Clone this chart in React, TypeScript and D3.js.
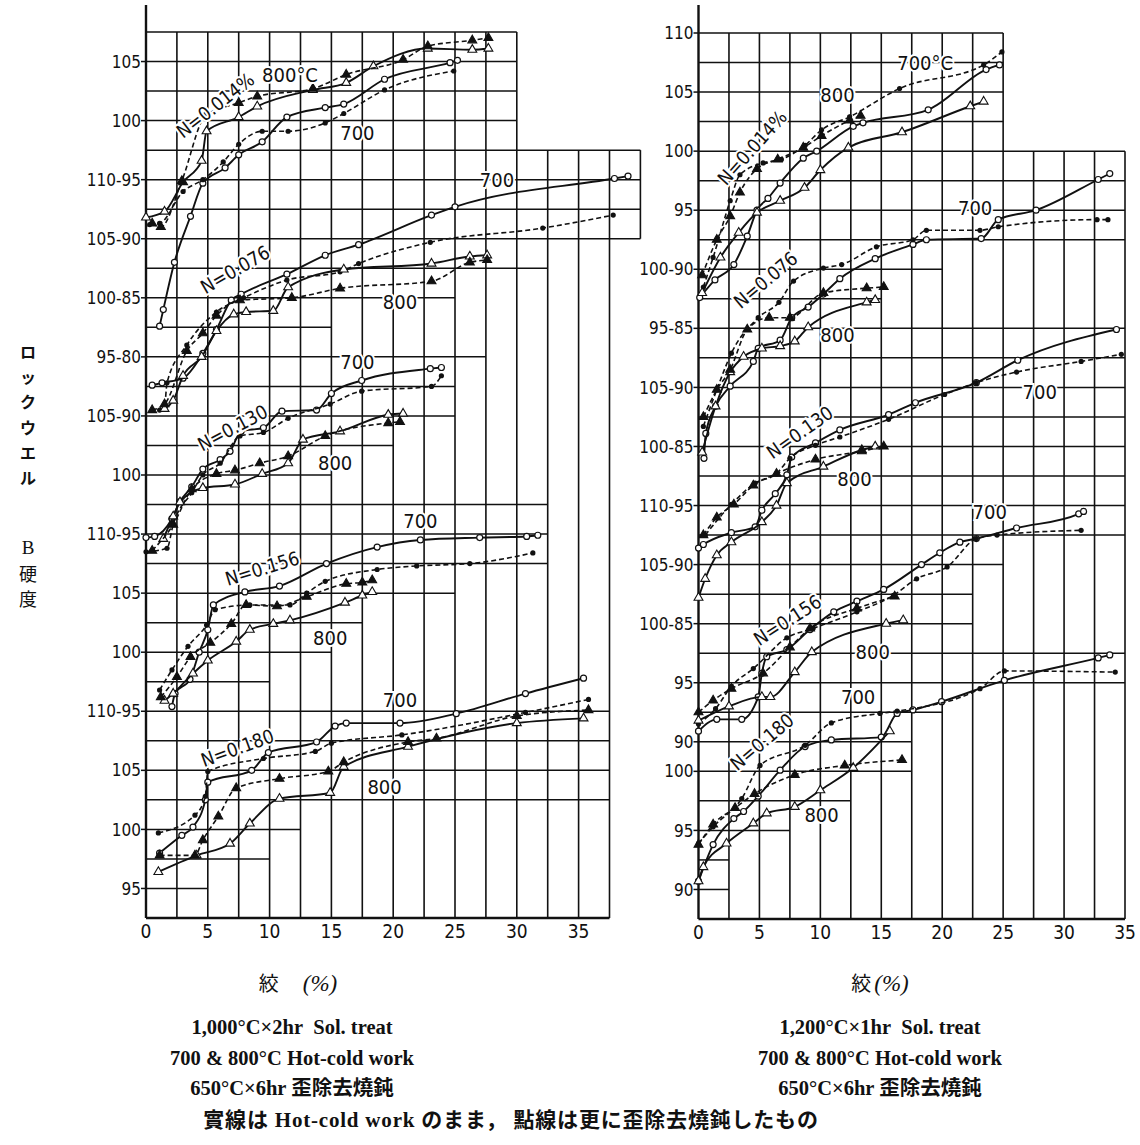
import React from 'react';
import * as d3 from 'd3';

type Pt = [number, number];

// ---- axis labels ----
const xTickValues = [0, 5, 10, 15, 20, 25, 30, 35];

// [stacked position, printed label]
const yLabelsLeft: [number, string][] = [
  [95, '95'], [100, '100'], [105, '105'], [110, '110-95'], [115, '100'], [120, '105'],
  [125, '110-95'], [130, '100'], [135, '105-90'], [140, '95-80'], [145, '100-85'],
  [150, '105-90'], [155, '110-95'], [160, '100'], [165, '105'],
];
const yLabelsRight: [number, string][] = [
  [90, '90'], [95, '95'], [100, '100'], [102.5, '90'], [107.5, '95'], [112.5, '100-85'],
  [117.5, '105-90'], [122.5, '110-95'], [127.5, '100-85'], [132.5, '105-90'], [137.5, '95-85'],
  [142.5, '100-90'], [147.5, '95'], [152.5, '100'], [157.5, '105'], [162.5, '110'],
];

// N content of each curve family and its vertical offset on the stacked axis
const nLevels = ['0.014', '0.076', '0.130', '0.156', '0.180'];
const offsetsLeft = [60, 45, 30, 15, 0];
const offsetsRight = [52.5, 42.5, 27.5, 12.5, 0];

// ---- grid (hand-cut stepped paper): [g, xEnd] ----
const hGridLeft: Pt[] = [
  [167.5, 30], [165, 30], [162.5, 30], [160, 30], [157.5, 40], [155, 40], [152.5, 40], [150, 40],
  [147.5, 32.5], [145, 25], [142.5, 15], [140, 27.5], [137.5, 25], [135, 25], [132.5, 20], [130, 15],
  [127.5, 32.5], [125, 32.5], [122.5, 32.5], [120, 25], [117.5, 17.5], [115, 15], [112.5, 10],
  [110, 37.5], [107.5, 37.5], [105, 37.5], [102.5, 37.5], [100, 12.5], [97.5, 10], [95, 5], [92.5, 37.5],
];
const hGridRight: Pt[] = [
  [162.5, 25], [160, 25], [157.5, 25], [155, 25], [152.5, 35], [150, 35], [147.5, 35], [145, 35],
  [142.5, 20], [140, 15], [137.5, 35], [135, 35], [132.5, 35], [130, 35], [127.5, 35], [125, 35],
  [122.5, 35], [120, 35], [117.5, 25], [115, 22.5], [112.5, 22.5], [110, 35], [107.5, 35],
  [105, 20], [102.5, 17.5], [100, 17.5], [97.5, 12.5], [95, 7.5], [92.5, 2.5], [90, 2.5], [87.5, 35],
];
// [x, gBottom, gTop]
const vGridLeft: [number, number, number][] = [
  [2.5, 92.5, 167.5], [5, 92.5, 167.5], [7.5, 92.5, 167.5], [10, 92.5, 167.5], [12.5, 92.5, 167.5],
  [15, 92.5, 167.5], [17.5, 92.5, 167.5], [20, 92.5, 167.5], [22.5, 92.5, 167.5], [25, 92.5, 167.5],
  [27.5, 92.5, 167.5], [30, 92.5, 167.5], [32.5, 92.5, 157.5], [35, 92.5, 157.5], [37.5, 92.5, 157.5],
  [40, 150, 157.5],
];
const vGridRight: [number, number, number][] = [
  [2.5, 87.5, 162.5], [5, 87.5, 162.5], [7.5, 87.5, 162.5], [10, 87.5, 162.5], [12.5, 87.5, 162.5],
  [15, 87.5, 162.5], [17.5, 87.5, 162.5], [20, 87.5, 162.5], [22.5, 87.5, 162.5], [25, 87.5, 162.5],
  [27.5, 87.5, 152.5], [30, 87.5, 152.5], [32.5, 87.5, 152.5], [35, 87.5, 152.5],
];

// ---- data: [reduction %, Rockwell B] ----
// left: 1000C x 2hr
const L014_700s: Pt[] = [[1.1, 82.6], [1.4, 84], [2.3, 88], [3.6, 91.9], [4.6, 94.7], [6.4, 96], [7.5, 97.1], [9.4, 98.2], [11.4, 100.3], [14.5, 101.1], [16, 101.4], [19.3, 103.5], [24.6, 104.9], [25.2, 105.1]];
const L014_700d: Pt[] = [[0.3, 91.2], [1.1, 91.3], [3, 94], [4.6, 95], [6.25, 96.5], [7.5, 98], [9.4, 99.1], [11.5, 99.1], [14.5, 99.8], [16, 100.6], [19.3, 102.6], [24.9, 104.2]];
const L014_800s: Pt[] = [[0, 91.8], [1.5, 92.3], [3, 94.8], [4.5, 96.6], [4.9, 99.1], [7.5, 100.3], [9, 101.2], [13.5, 102.6], [16.2, 103.2], [18.4, 104.6], [22.8, 106.1], [26.4, 106], [27.7, 106.1]];
const L014_800d: Pt[] = [[0.5, 91.3], [1.2, 91], [2.9, 94.9], [4.8, 100.4], [7.5, 101.5], [9, 102.05], [13.5, 102.7], [16.2, 103.9], [20.8, 105.15], [22.8, 106.3], [26.4, 106.8], [27.7, 107]];

const L076_700s: Pt[] = [[0.5, 92.6], [1.3, 92.8], [3, 93.2], [4.6, 95.3], [5.7, 97.3], [6.9, 99.8], [7.7, 100.3], [11.4, 102], [14.5, 103.6], [17.2, 104.5], [23.1, 107], [25, 107.7], [37.9, 110.1], [39, 110.3]];
const L076_700d: Pt[] = [[1.1, 90.5], [1.5, 90.8], [1.7, 92.8], [3.3, 96], [5.7, 98.8], [7.9, 100], [11.4, 101.5], [15.7, 102.2], [17.2, 102.9], [23, 104.7], [32.1, 105.9], [37.8, 107]];
const L076_800s: Pt[] = [[1.5, 90.6], [2.2, 91.3], [3, 93.4], [4.5, 95], [5.7, 97.2], [7.1, 98.6], [8.1, 98.8], [10.3, 98.9], [11.5, 100.9], [16, 102.4], [23.1, 102.9], [26.2, 103.5], [27.6, 103.6]];
const L076_800d: Pt[] = [[0.5, 90.5], [1.5, 91], [3.3, 95.5], [4.6, 97], [5.7, 98.5], [7.6, 99.8], [11.8, 100], [15.7, 100.8], [23.1, 101.4], [26.2, 103], [27.6, 103.2]];

const L130_700s: Pt[] = [[0, 94.7], [0.7, 94.8], [2.1, 96.3], [2.75, 97.75], [3.7, 99], [4.6, 100.5], [6, 101.3], [6.8, 102], [7.7, 103.7], [9.5, 104], [11, 105.4], [13.8, 105.5], [15, 106.9], [17.45, 108], [23, 109], [23.9, 109.1]];
const L130_700d: Pt[] = [[0, 93.5], [1.7, 93.8], [2.2, 95.8], [3.7, 98.5], [4.6, 100], [6, 101], [7.6, 103.3], [9.5, 103.6], [11.5, 104.8], [14.9, 106], [17.45, 107.1], [23.1, 107.5], [23.9, 108.4]];
const L130_800s: Pt[] = [[1.4, 94.6], [2.2, 96.5], [2.75, 97.7], [4.6, 98.9], [7.2, 99.2], [9.4, 100.1], [11.5, 101], [12.7, 103], [15.7, 103.7], [19.6, 105.1], [20.8, 105.2]];
const L130_800d: Pt[] = [[0.5, 93.6], [2.2, 95.8], [3.7, 98.8], [5.7, 100.1], [7.2, 100.4], [9.2, 101], [11.5, 101.6], [14.5, 103.3], [19.6, 104.4], [20.55, 104.5]];

const L156_700s: Pt[] = [[2.1, 95.4], [2.35, 96.5], [3.56, 97.7], [4.3, 100], [5, 101.9], [5.45, 104], [8, 105.1], [10.8, 105.6], [14.6, 107.5], [18.7, 108.9], [22.2, 109.5], [27, 109.7], [30.8, 109.8], [31.7, 109.9]];
const L156_700d: Pt[] = [[1.1, 96.8], [2.1, 98.5], [3.4, 100.5], [4.9, 102.3], [5.6, 103.6], [8.4, 104], [11.65, 104], [13, 105], [14.5, 106], [18.7, 107], [21.9, 107.3], [26.2, 107.5], [31.3, 108.4]];
const L156_800s: Pt[] = [[1.5, 95.9], [2.2, 96.5], [3.8, 98.2], [5, 99.3], [7.3, 100.9], [8.4, 101.9], [10.3, 102.4], [11.65, 102.7], [16.1, 104.2], [17.5, 104.8], [18.3, 105.1]];
const L156_800d: Pt[] = [[1.2, 96.2], [2.5, 97.9], [3.6, 99.6], [5.2, 100.8], [6.9, 102.4], [8.1, 104], [10.6, 103.9], [13, 104.7], [16.2, 105.8], [17.5, 105.9], [18.3, 106.1]];

const L180_700s: Pt[] = [[1.1, 98], [2.9, 99.5], [3.8, 100.2], [4.8, 102.5], [5, 104], [8.55, 105], [9.9, 106.5], [13.8, 107.4], [15.3, 108.75], [16.2, 109], [20.55, 109], [25.1, 109.8], [30.7, 111.5], [35.4, 112.8]];
const L180_700d: Pt[] = [[1, 99.7], [3.96, 101.2], [4.8, 102.8], [5, 104.9], [9.5, 106], [13.7, 106.6], [15, 107.3], [20.7, 108], [30.7, 109.9], [35.8, 111]];
const L180_800s: Pt[] = [[1, 96.4], [4.1, 97.8], [6.8, 98.8], [8.4, 100.5], [10.8, 102.6], [14.9, 103.1], [16, 105.3], [21.2, 107], [30, 109], [35.4, 109.4]];
const L180_800d: Pt[] = [[1.1, 97.8], [3.96, 97.8], [4.6, 99.1], [5.85, 101.1], [7.3, 103.5], [10.8, 104.3], [14.75, 104.9], [16, 105.7], [21.2, 107.4], [23.5, 107.7], [30, 109.6], [35.8, 110.1]];

// right: 1200C x 1hr
const R014_700s: Pt[] = [[0.1, 87.6], [1.35, 89.1], [2.9, 90.4], [4, 92.8], [4.8, 95], [5.7, 96], [6.7, 97.3], [8.6, 99.4], [9.7, 100], [12.7, 102.1], [13.5, 102.4], [18.85, 103.5], [23.6, 106.9], [24.7, 107.3]];
const R014_700d: Pt[] = [[0.4, 88.5], [1.2, 91], [2.6, 95.8], [3.4, 98], [5.3, 99], [6.8, 99.3], [8.75, 100.5], [10.1, 101.8], [12.4, 102.9], [16.5, 105.3], [23.4, 107.3], [24.9, 108.4]];
const R014_800s: Pt[] = [[0.3, 88], [1.8, 91], [3.3, 93.1], [4.8, 94.8], [6.7, 95.8], [8.7, 96.9], [10, 98.4], [12.3, 100.3], [16.7, 101.6], [22.3, 103.8], [23.4, 104.2]];
const R014_800d: Pt[] = [[0.3, 89.5], [1.5, 92.5], [2.6, 94.5], [3.4, 96.5], [4.8, 98.5], [6.5, 99.3], [8.6, 100.3], [10.1, 101.3], [12.4, 102.6], [13.3, 103]];

const R076_700s: Pt[] = [[0.45, 84], [0.6, 86.1], [1.4, 88.4], [2.6, 90.1], [4.5, 92.2], [4.9, 93.3], [6.7, 94], [7.65, 95.9], [9, 96.8], [10.25, 97.9], [11.6, 99.2], [14.5, 100.9], [17.6, 102.1], [18.7, 102.5], [23.2, 102.6], [24.6, 104.2], [27.7, 105], [32.8, 107.6], [33.75, 108.1]];
const R076_700d: Pt[] = [[0.4, 86.7], [1.5, 89.8], [2.7, 92.9], [4.9, 95.9], [6.6, 97.2], [7.8, 99], [10.25, 100.1], [11.75, 100.4], [14.6, 101.9], [17.6, 102.5], [18.7, 103.3], [23.1, 103.3], [24.6, 103.6], [32.7, 104.2], [33.6, 104.2]];
const R076_800s: Pt[] = [[0.3, 84.5], [1.4, 88.4], [2.6, 91.3], [3.7, 92.6], [5.2, 93.3], [6.7, 93.5], [7.9, 93.9], [9, 95.1], [13.8, 97.2], [14.5, 97.4]];
const R076_800d: Pt[] = [[0.4, 87.5], [1.5, 89.8], [2.6, 91.5], [4, 94.9], [5.8, 95.9], [7.5, 95.9], [10.25, 98], [13.8, 98.4], [15.2, 98.5]];

const R130_700s: Pt[] = [[0, 91.4], [0.4, 91.7], [2.7, 92.7], [4.65, 93.2], [5.2, 94.6], [6.3, 96], [7.25, 97.6], [7.65, 99.1], [9.6, 100.3], [11.6, 101.4], [15.6, 102.7], [17.8, 103.7], [22.8, 105.4], [26.2, 107.3], [34.3, 109.9]];
const R130_700d: Pt[] = [[0.55, 92.5], [2.7, 95.1], [4.65, 96.9], [6.4, 97.7], [7.5, 99], [9.6, 100.1], [11.6, 100.8], [15.6, 102.3], [20.2, 104.4], [22.8, 105.4], [26.1, 106.3], [31.4, 107.2], [34.7, 107.8]];
const R130_800s: Pt[] = [[0, 87.2], [0.55, 88.8], [1.5, 90.8], [2.7, 91.9], [5.2, 93.6], [6.4, 95], [7.25, 96.9], [10.25, 98.3], [13.4, 99.7], [14.5, 100]];
const R130_800d: Pt[] = [[0.4, 92.5], [1.5, 94], [2.9, 95.1], [4.5, 96.7], [6.4, 97.7], [9.6, 98.9], [13.4, 99.6], [15.2, 100]];

const R156_700s: Pt[] = [[0, 90.9], [1.5, 91.9], [3.55, 91.9], [4.9, 93.8], [5.2, 95.8], [5.6, 97.2], [7.25, 97.8], [9.15, 99.5], [11.1, 101], [13, 101.9], [15.2, 102.9], [18.3, 105], [19.8, 106], [21.45, 106.9], [22.8, 107.2], [26.1, 108.1], [31.2, 109.3], [31.6, 109.5]];
const R156_700d: Pt[] = [[0, 91.5], [1.4, 92.8], [2.7, 94.7], [4.5, 96.2], [7.25, 98.8], [9.4, 99.6], [13, 101], [16, 102.4], [17.9, 103.8], [20.4, 104.8], [22.8, 107.2], [24.5, 107.5], [31.4, 107.9]];
const R156_800s: Pt[] = [[0, 91.8], [2.5, 93], [5.2, 93.8], [5.9, 93.8], [7.9, 95.9], [9.3, 97.6], [15.4, 100], [16.8, 100.3]];
const R156_800d: Pt[] = [[0, 92.5], [1.2, 93.5], [2.7, 94.5], [5.3, 95.8], [7.5, 98], [9.15, 99.6], [13, 101.3], [16.1, 102.3]];

const R180_700s: Pt[] = [[0, 90.7], [1.2, 93.8], [2.9, 96], [3.7, 96.6], [4.9, 97.9], [6.7, 100.1], [8.75, 102.1], [10.9, 102.66], [15, 102.9], [16.3, 104.9], [17.6, 105.2], [19.95, 105.9], [25.1, 107.7], [32.8, 109.6], [33.75, 109.85]];
const R180_700d: Pt[] = [[0, 93.9], [1.2, 95.3], [3.55, 97.7], [5.05, 100.5], [8.75, 102.2], [10.9, 104.1], [14.9, 104.9], [16.3, 105.1], [23.1, 107], [25.1, 108.5], [34.2, 108.4]];
const R180_800s: Pt[] = [[0, 90.7], [0.4, 91.9], [2.3, 93.9], [4.5, 95.6], [5.6, 96.45], [7.9, 97], [10, 98.4], [12.7, 100.3], [15.7, 103.4]];
const R180_800d: Pt[] = [[0, 93.8], [1.2, 95.5], [3, 96.9], [4.6, 98.1], [7.9, 99.7], [12, 100.5], [16.7, 100.96]];

// [text, x %, hardness, family index, rotation]
const notesLeft: [string, number, number, number, number][] = [
  ['N=0.014%', 5.6, 101.3, 0, -38], ['800°C', 11.65, 103.9, 0, 0], ['700', 17.1, 99, 0, 0],
  ['700', 28.4, 110, 1, 0], ['N=0.076', 7.2, 102.4, 1, -30], ['800', 20.55, 99.7, 1, 0],
  ['700', 17.1, 109.6, 2, 0], ['N=0.130', 7, 104, 2, -28], ['800', 15.3, 101, 2, 0],
  ['700', 22.2, 111.1, 3, 0], ['N=0.156', 9.4, 107.1, 3, -17], ['800', 14.9, 101.2, 3, 0],
  ['700', 20.55, 110.96, 4, 0], ['N=0.180', 7.4, 106.9, 4, -20], ['800', 19.3, 103.6, 4, 0],
];
const notesRight: [string, number, number, number, number][] = [
  ['700°C', 18.6, 107.5, 0, 0], ['800', 11.4, 104.8, 0, 0], ['N=0.014%', 4.4, 100.3, 0, -48],
  ['700', 22.7, 105.2, 1, 0], ['N=0.076', 5.5, 99.1, 1, -40], ['800', 11.4, 94.45, 1, 0],
  ['700', 28, 104.6, 2, 0], ['N=0.130', 8.3, 101.2, 2, -35], ['800', 12.8, 97.3, 2, 0],
  ['700', 23.9, 109.5, 3, 0], ['N=0.156', 7.3, 100.3, 3, -33], ['800', 14.3, 97.6, 3, 0],
  ['700', 13.1, 106.3, 4, 0], ['N=0.180', 5.2, 102.5, 4, -40], ['800', 10.1, 96.3, 4, 0],
];

type Series = { pts: Pt[]; temp: number; dashed: boolean };
const seriesLeft: Series[][] = [
  [{ pts: L014_700s, temp: 700, dashed: false }, { pts: L014_700d, temp: 700, dashed: true }, { pts: L014_800s, temp: 800, dashed: false }, { pts: L014_800d, temp: 800, dashed: true }],
  [{ pts: L076_700s, temp: 700, dashed: false }, { pts: L076_700d, temp: 700, dashed: true }, { pts: L076_800s, temp: 800, dashed: false }, { pts: L076_800d, temp: 800, dashed: true }],
  [{ pts: L130_700s, temp: 700, dashed: false }, { pts: L130_700d, temp: 700, dashed: true }, { pts: L130_800s, temp: 800, dashed: false }, { pts: L130_800d, temp: 800, dashed: true }],
  [{ pts: L156_700s, temp: 700, dashed: false }, { pts: L156_700d, temp: 700, dashed: true }, { pts: L156_800s, temp: 800, dashed: false }, { pts: L156_800d, temp: 800, dashed: true }],
  [{ pts: L180_700s, temp: 700, dashed: false }, { pts: L180_700d, temp: 700, dashed: true }, { pts: L180_800s, temp: 800, dashed: false }, { pts: L180_800d, temp: 800, dashed: true }],
];
const seriesRight: Series[][] = [
  [{ pts: R014_700s, temp: 700, dashed: false }, { pts: R014_700d, temp: 700, dashed: true }, { pts: R014_800s, temp: 800, dashed: false }, { pts: R014_800d, temp: 800, dashed: true }],
  [{ pts: R076_700s, temp: 700, dashed: false }, { pts: R076_700d, temp: 700, dashed: true }, { pts: R076_800s, temp: 800, dashed: false }, { pts: R076_800d, temp: 800, dashed: true }],
  [{ pts: R130_700s, temp: 700, dashed: false }, { pts: R130_700d, temp: 700, dashed: true }, { pts: R130_800s, temp: 800, dashed: false }, { pts: R130_800d, temp: 800, dashed: true }],
  [{ pts: R156_700s, temp: 700, dashed: false }, { pts: R156_700d, temp: 700, dashed: true }, { pts: R156_800s, temp: 800, dashed: false }, { pts: R156_800d, temp: 800, dashed: true }],
  [{ pts: R180_700s, temp: 700, dashed: false }, { pts: R180_700d, temp: 700, dashed: true }, { pts: R180_800s, temp: 800, dashed: false }, { pts: R180_800d, temp: 800, dashed: true }],
];

const INK = '#111';
const FONT_NUM = "'DejaVu Sans Condensed','Liberation Sans Narrow','DejaVu Sans',sans-serif";
const FONT_SERIF = "'Liberation Serif','DejaVu Serif',serif";
const FONT_JP = "'Noto Sans CJK JP','Noto Sans CJK SC',sans-serif";
const FONT_CAPTION = "'Liberation Serif','Noto Sans CJK JP',serif";

const triangle = d3.symbol().type(d3.symbolTriangle).size(34)();

type PanelProps = {
  x: d3.ScaleLinear<number, number>;
  y: d3.ScaleLinear<number, number>;
  hGrid: Pt[];
  vGrid: [number, number, number][];
  yLabels: [number, string][];
  offsets: number[];
  series: Series[][];
  notes: [string, number, number, number, number][];
  xMax: number;
};

const Panel = ({ x, y, hGrid, vGrid, yLabels, offsets, series, notes, xMax }: PanelProps) => {
  const x0 = x(0);
  const [gMin] = y.domain();
  return (
    <g>
      {/* grid */}
      {hGrid.map(([g, xe], i) => (
        <line key={'h' + i} x1={x0} x2={x(xe)} y1={y(g)} y2={y(g)} stroke={INK}
          strokeWidth={g === gMin ? 2.4 : 1.5} />
      ))}
      {vGrid.map(([xv, g0, g1], i) => (
        <line key={'v' + i} x1={x(xv)} x2={x(xv)} y1={y(g0)} y2={y(g1)} stroke={INK} strokeWidth={1.6} />
      ))}
      {/* y axis */}
      <line x1={x0} x2={x0} y1={y(gMin)} y2={5} stroke={INK} strokeWidth={2.4} />
      {yLabels.map(([g, t], i) => (
        <g key={'yl' + i}>
          <line x1={x0 - 5} x2={x0} y1={y(g)} y2={y(g)} stroke={INK} strokeWidth={1.5} />
          <text x={x0 - 5} y={y(g)} dy="0.36em" textAnchor="end" fontFamily={FONT_NUM}
            fontSize={17} fill={INK}>{t}</text>
        </g>
      ))}
      {/* x tick labels */}
      {xTickValues.filter(v => v <= xMax).map(v => (
        <text key={'xt' + v} x={x(v)} y={y(gMin) + 20} textAnchor="middle" fontFamily={FONT_NUM}
          fontSize={19} fill={INK}>{v}</text>
      ))}
      {/* curves */}
      {series.map((fam, fi) => fam.map((s, si) => {
        const off = offsets[fi];
        const line = d3.line<Pt>()
          .x(d => x(d[0]))
          .y(d => y(d[1] + off))
          .curve(d3.curveMonotoneX);
        return (
          <g key={`c${fi}-${si}`}>
            <path d={line(s.pts) || ''} fill="none" stroke={INK}
              strokeWidth={s.dashed ? 1.6 : 1.9} strokeDasharray={s.dashed ? '5 3' : undefined} />
            {s.pts.map((p, k) => {
              const cx = x(p[0]);
              const cy = y(p[1] + off);
              if (s.temp === 800) {
                return (
                  <path key={k} d={triangle || ''} transform={`translate(${cx},${cy})`}
                    fill={s.dashed ? INK : '#fff'} stroke={INK} strokeWidth={1.1} />
                );
              }
              return s.dashed
                ? <circle key={k} cx={cx} cy={cy} r={2.6} fill={INK} />
                : <circle key={k} cx={cx} cy={cy} r={3} fill="#fff" stroke={INK} strokeWidth={1.2} />;
            })}
          </g>
        );
      }))}
      {/* curve labels */}
      {notes.map(([t, xv, hv, fi, rot], i) => (
        <text key={'n' + i} transform={`translate(${x(xv)},${y(hv + offsets[fi])}) rotate(${rot})`}
          textAnchor="middle" dy="0.36em" fontFamily={FONT_NUM} fontSize={t.startsWith('N') ? 19 : 20}
          fill={INK} stroke="#fff" strokeWidth={4} paintOrder="stroke">{t}</text>
      ))}
    </g>
  );
};

const xLeft = d3.scaleLinear().domain([0, 40]).range([146, 640.4]);
const yLeft = d3.scaleLinear().domain([92.5, 167.5]).range([918, 32]);
const xRight = d3.scaleLinear().domain([0, 35]).range([698.5, 1125]);
const yRight = d3.scaleLinear().domain([87.5, 162.5]).range([919, 33]);

const yTitleKana = ['ロ', 'ッ', 'ク', 'ウ', 'エ', 'ル'];
const yTitleRest = ['B', '硬', '度'];

const captionLeft = ['1,000°C×2hr\u00a0\u00a0Sol. treat', '700 & 800°C Hot-cold work', '650°C×6hr 歪除去燒鈍'];
const captionRight = ['1,200°C×1hr\u00a0\u00a0Sol. treat', '700 & 800°C Hot-cold work', '650°C×6hr 歪除去燒鈍'];
const footnote = '實線は Hot-cold work のまま，\u00a0點線は更に歪除去燒鈍したもの';

export default function App() {
  return (
    <div style={{ position: 'absolute', left: 0, top: 0 }}>
      <svg width={1140} height={1145} viewBox="0 0 1140 1145" style={{ display: 'block', background: '#fff' }}>
        <Panel x={xLeft} y={yLeft} hGrid={hGridLeft} vGrid={vGridLeft} yLabels={yLabelsLeft}
          offsets={offsetsLeft} series={seriesLeft} notes={notesLeft} xMax={35} />
        <Panel x={xRight} y={yRight} hGrid={hGridRight} vGrid={vGridRight} yLabels={yLabelsRight}
          offsets={offsetsRight} series={seriesRight} notes={notesRight} xMax={35} />

        {/* y title */}
        {yTitleKana.map((c, i) => (
          <text key={'k' + i} x={28} y={352 + i * 25.3} textAnchor="middle" dy="0.36em"
            fontFamily={FONT_JP} fontSize={16} fontWeight={700} fill={INK}>{c}</text>
        ))}
        {yTitleRest.map((c, i) => (
          <text key={'b' + i} x={28} y={[547, 575, 600][i]} textAnchor="middle" dy="0.36em"
            fontFamily={i === 0 ? FONT_SERIF : FONT_JP} fontSize={i === 0 ? 19 : 18} fill={INK}>{c}</text>
        ))}

        {/* x titles and captions */}
        <text x={298} y={985} textAnchor="middle" dy="0.36em" fill={INK}>
          <tspan fontFamily={FONT_JP} fontSize={20}>絞</tspan>
          <tspan fontFamily={FONT_SERIF} fontSize={23} fontStyle="italic" dx={24}>(%)</tspan>
        </text>
        <text x={880} y={985} textAnchor="middle" dy="0.36em" fill={INK}>
          <tspan fontFamily={FONT_JP} fontSize={20}>絞</tspan>
          <tspan fontFamily={FONT_SERIF} fontSize={23} fontStyle="italic" dx={3}>(%)</tspan>
        </text>
        {captionLeft.map((t, i) => (
          <text key={'cl' + i} x={292} y={1027 + i * 30.5} textAnchor="middle" dy="0.36em"
            fontFamily={FONT_CAPTION} fontSize={20.5} fontWeight={600} fill={INK}>{t}</text>
        ))}
        {captionRight.map((t, i) => (
          <text key={'cr' + i} x={880} y={1027 + i * 30.5} textAnchor="middle" dy="0.36em"
            fontFamily={FONT_CAPTION} fontSize={20.5} fontWeight={600} fill={INK}>{t}</text>
        ))}
        <text x={511} y={1119} textAnchor="middle" dy="0.36em" letterSpacing={0.8}
          fontFamily={FONT_CAPTION} fontSize={21} fontWeight={600} fill={INK}>{footnote}</text>
      </svg>
    </div>
  );
}
